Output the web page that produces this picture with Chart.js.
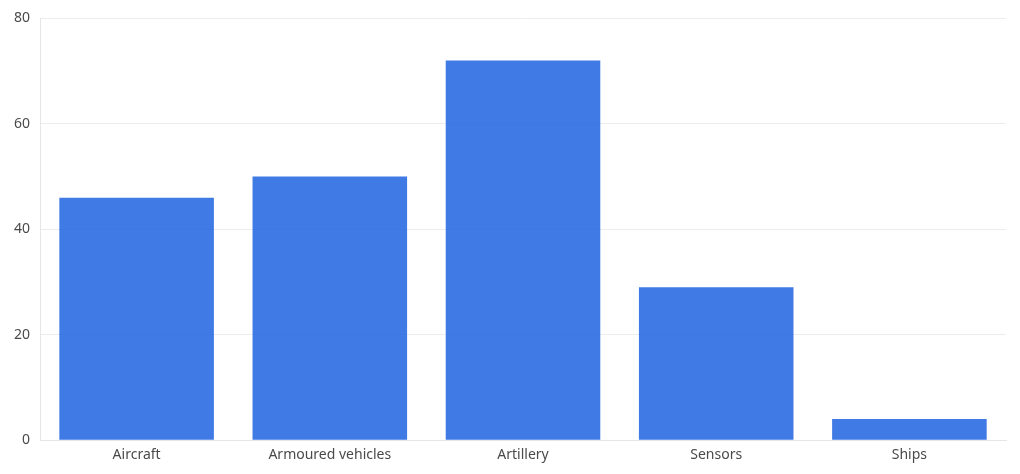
<!DOCTYPE html>
<html>
<head>
<meta charset="utf-8">
<script src="https://cdn.jsdelivr.net/npm/chart.js@4"></script>
<style>
	html, body { margin: 0; padding: 0; background: #fff; }
	#wrap { width: 1020px; height: 474px; }
</style>
</head>
<body>
<div id="wrap"><canvas id="chart"></canvas></div>
<script>
"use strict"

const categories = ["Aircraft", "Armoured vehicles", "Artillery", "Sensors", "Ships"]
const values = [46, 50, 72, 29, 4]
const yTicks = [0, 20, 40, 60, 80]

Chart.defaults.font.family = "'Noto Sans', sans-serif"
Chart.defaults.font.size = 14
Chart.defaults.color = "#4a4a4a"

const ctx = document.getElementById("chart")
const myChart = new Chart(ctx, {
	type: "bar",
	data: {
		labels: categories,
		datasets: [
			{
				data: values,
				backgroundColor: "rgba(42, 108, 226, 0.9)",
				borderWidth: 0,
				barPercentage: 0.8,
				categoryPercentage: 1,
			},
		],
	},
	options: {
		responsive: true,
		maintainAspectRatio: false,
		animation: false,
		layout: {
			padding: { top: 13, right: 14, bottom: 5, left: 4 },
		},
		plugins: {
			legend: { display: false },
			tooltip: { enabled: false },
		},
		scales: {
			x: {
				grid: { display: false, drawTicks: false },
				border: { display: true, color: "#e6e6e6" },
				ticks: { padding: 6 },
			},
			y: {
				min: yTicks[0],
				max: yTicks[yTicks.length - 1],
				afterBuildTicks: (axis) => {
					axis.ticks = yTicks.map((v) => ({ value: v }))
				},
				grid: { color: "#ececec", drawTicks: false },
				border: { display: true, color: "#e6e6e6" },
				ticks: { padding: 10 },
			},
		},
	},
})
</script>
</body>
</html>
